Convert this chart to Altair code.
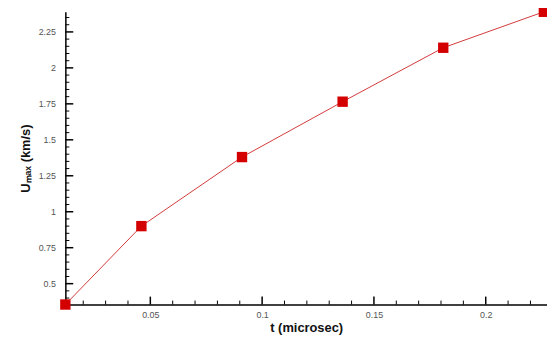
import altair as alt
import pandas as pd

t_vals = [0.012, 0.046, 0.091, 0.136, 0.181, 0.226]
u_vals = [0.355, 0.90, 1.38, 1.765, 2.14, 2.39]

x_major = [0.05, 0.1, 0.15, 0.2]
y_major = [0.5, 0.75, 1.0, 1.25, 1.5, 1.75, 2.0, 2.25]
x_minor = [0.02, 0.03, 0.04, 0.06, 0.07, 0.08, 0.09, 0.11, 0.12, 0.13, 0.14,
           0.16, 0.17, 0.18, 0.19, 0.21, 0.22]
y_minor = [0.4, 0.45, 0.55, 0.6, 0.65, 0.7, 0.8, 0.85, 0.9, 0.95, 1.05, 1.1,
           1.15, 1.2, 1.3, 1.35, 1.4, 1.45, 1.55, 1.6, 1.65, 1.7, 1.8, 1.85,
           1.9, 1.95, 2.05, 2.1, 2.15, 2.2, 2.3, 2.35]

df = pd.DataFrame({"t": t_vals, "u": u_vals})
xmaj_df = pd.DataFrame({"t": x_major})
xmin_df = pd.DataFrame({"t": x_minor})
ymaj_df = pd.DataFrame({"u": y_major})
ymin_df = pd.DataFrame({"u": y_minor})

W, H = 487, 296
xs = alt.Scale(domain=[0.012, 0.2274], nice=False, zero=False)
ys = alt.Scale(domain=[0.355, 2.39], nice=False, zero=False)

font = "Liberation Sans"

main_line = alt.Chart(df).mark_line(color="#d23a3a", strokeWidth=1).encode(
    x=alt.X("t:Q", scale=xs, axis=alt.Axis(
        orient="bottom", values=x_major, labelExpr="datum.value + ''",
        title="t  (microsec)", ticks=False, grid=False,
        domainColor="black", domainWidth=1.5,
        labelFont=font, labelFontSize=9, labelColor="#555555", labelPadding=6,
        titleFont=font, titleFontSize=13, titleFontWeight="bold", titleColor="#111111",
        titlePadding=2)),
    y=alt.Y("u:Q", scale=ys, axis=alt.Axis(
        orient="left", values=y_major, labelExpr="datum.value + ''",
        title="Uₘₐₓ (km/s)", ticks=False, grid=False,
        domainColor="black", domainWidth=1.5,
        labelFont=font, labelFontSize=9, labelColor="#555555", labelPadding=10,
        titleFont=font, titleFontSize=13, titleFontWeight="bold", titleColor="#111111",
        titlePadding=6)),
)

xmin_ticks = alt.Chart(xmin_df).mark_rule(color="black", strokeWidth=1).encode(
    x=alt.X("t:Q", scale=xs), y=alt.value(H), y2=alt.value(H - 4))
xmaj_ticks = alt.Chart(xmaj_df).mark_rule(color="black", strokeWidth=1.5).encode(
    x=alt.X("t:Q", scale=xs), y=alt.value(H), y2=alt.value(H - 8))
ymin_ticks = alt.Chart(ymin_df).mark_rule(color="black", strokeWidth=1).encode(
    y=alt.Y("u:Q", scale=ys), x=alt.value(0), x2=alt.value(4))
ymaj_ticks = alt.Chart(ymaj_df).mark_rule(color="black", strokeWidth=1.5).encode(
    y=alt.Y("u:Q", scale=ys), x=alt.value(0), x2=alt.value(8))

pts = alt.Chart(df).mark_square(color="#d40000", size=110, opacity=1).encode(
    x=alt.X("t:Q", scale=xs), y=alt.Y("u:Q", scale=ys)
)

chart = (
    alt.layer(main_line, xmin_ticks, xmaj_ticks, ymin_ticks, ymaj_ticks, pts)
    .properties(width=W, height=H,
                padding={"left": 58, "top": 2, "right": 0, "bottom": 30},
                autosize=alt.AutoSizeParams(type="none"),
                view=alt.ViewBackground(strokeOpacity=0, strokeWidth=0))
    .configure_view(strokeOpacity=0, strokeWidth=0)
    .configure_axis(grid=False)
    .configure(background="white")
)

chart.save("out.html", embed_options={"renderer": "svg", "actions": False})
